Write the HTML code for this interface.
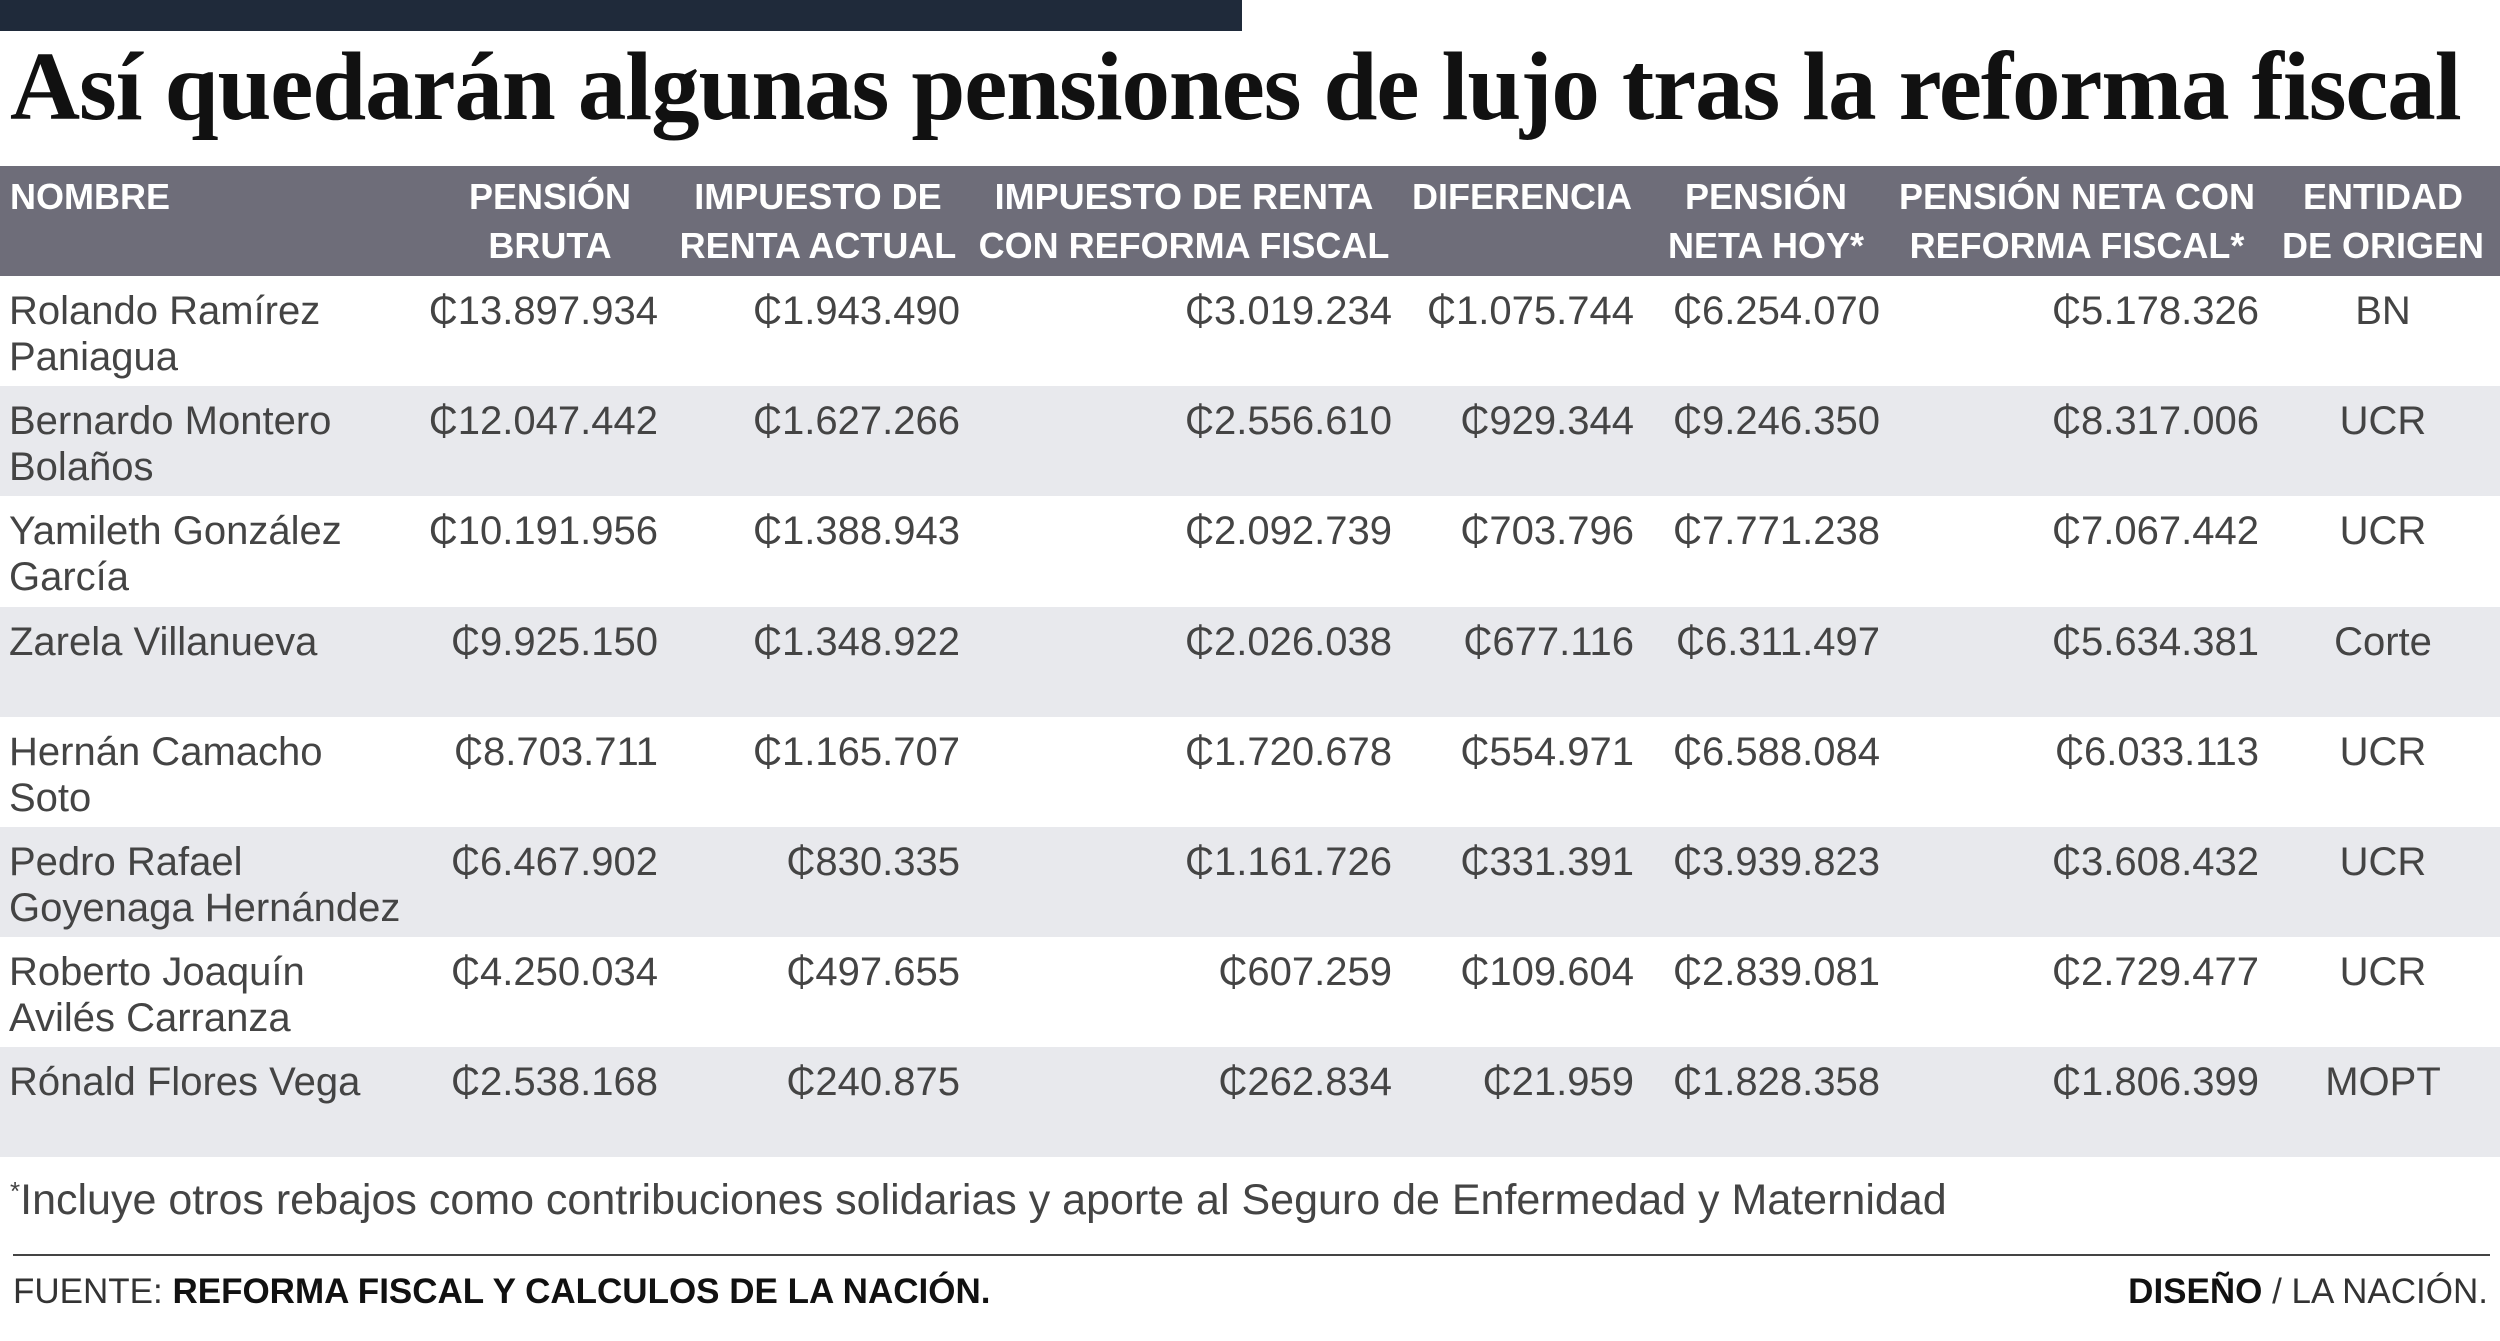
<!DOCTYPE html>
<html><head><meta charset="utf-8"><style>
body{margin:0;width:2500px;height:1341px;background:#fff;position:relative;overflow:hidden;font-family:"Liberation Sans",sans-serif;color:#2a2a2a}
.a{position:absolute}
.bar{left:0;top:0;width:1242px;height:31px;background:#1f2a3a}
.title{left:10px;top:31px;font-family:"Liberation Serif",serif;font-weight:bold;font-size:97px;letter-spacing:-1.1px;color:#111;white-space:nowrap}
.hd{left:0;top:166px;width:2500px;height:110px;background:#6e6d79}
.h{color:#fff;font-weight:bold;font-size:36px;line-height:49px;top:172px;text-align:center;white-space:nowrap}
.row{left:0;width:2500px;height:110px}
.g{background:#e8e9ed}
.c{font-size:40px;line-height:46px;white-space:nowrap;color:#444}
.r{text-align:right}
</style></head><body>
<div class="a bar"></div>
<div class="a title">Así quedarán algunas pensiones de lujo tras la reforma fiscal</div>
<div class="a hd"></div>
<div class="a h" style="left:10px;text-align:left">NOMBRE</div>
<div class="a h" style="left:400px;width:300px">PENSIÓN<br>BRUTA</div>
<div class="a h" style="left:660px;width:316px">IMPUESTO DE<br>RENTA ACTUAL</div>
<div class="a h" style="left:964px;width:440px">IMPUESTO DE RENTA<br>CON REFORMA FISCAL</div>
<div class="a h" style="left:1392px;width:260px">DIFERENCIA</div>
<div class="a h" style="left:1626px;width:280px">PENSIÓN<br>NETA HOY*</div>
<div class="a h" style="left:1867px;width:420px">PENSIÓN NETA CON<br>REFORMA FISCAL*</div>
<div class="a h" style="left:2263px;width:240px">ENTIDAD<br>DE ORIGEN</div>
<div id="rows"></div>
<div class="a" style="left:10px;top:1176px;font-size:43px;color:#444;white-space:nowrap"><span style="font-size:26px;vertical-align:top">*</span>Incluye otros rebajos como contribuciones solidarias y aporte al Seguro de Enfermedad y Maternidad</div>
<div class="a" style="left:13px;top:1254px;width:2477px;height:2px;background:#444"></div>
<div class="a" style="left:13px;top:1272px;font-size:35px;color:#333;white-space:nowrap">FUENTE: <b style="color:#111">REFORMA FISCAL Y CALCULOS DE LA NACIÓN.</b></div>
<div class="a" style="right:12px;top:1272px;font-size:35px;color:#333;white-space:nowrap"><b style="color:#111">DISEÑO</b> / LA NACIÓN.</div>
<script>
var d=[["Rolando Ramírez<br>Paniagua","₵13.897.934","₵1.943.490","₵3.019.234","₵1.075.744","₵6.254.070","₵5.178.326","BN"],
["Bernardo Montero<br>Bolaños","₵12.047.442","₵1.627.266","₵2.556.610","₵929.344","₵9.246.350","₵8.317.006","UCR"],
["Yamileth González<br>García","₵10.191.956","₵1.388.943","₵2.092.739","₵703.796","₵7.771.238","₵7.067.442","UCR"],
["Zarela Villanueva","₵9.925.150","₵1.348.922","₵2.026.038","₵677.116","₵6.311.497","₵5.634.381","Corte"],
["Hernán Camacho<br>Soto","₵8.703.711","₵1.165.707","₵1.720.678","₵554.971","₵6.588.084","₵6.033.113","UCR"],
["Pedro Rafael<br>Goyenaga Hernández","₵6.467.902","₵830.335","₵1.161.726","₵331.391","₵3.939.823","₵3.608.432","UCR"],
["Roberto Joaquín<br>Avilés Carranza","₵4.250.034","₵497.655","₵607.259","₵109.604","₵2.839.081","₵2.729.477","UCR"],
["Rónald Flores Vega","₵2.538.168","₵240.875","₵262.834","₵21.959","₵1.828.358","₵1.806.399","MOPT"]];
var rights=[658,960,1392,1634,1880,2259],h="";
d.forEach(function(r,i){var t=276+i*110.2;
h+='<div class="a row'+(i%2?' g':'')+'" style="top:'+t+'px"></div>';
var ty=t+12;
h+='<div class="a c" style="left:9px;top:'+ty+'px">'+r[0]+'</div>';
for(var j=0;j<6;j++)h+='<div class="a c r" style="left:'+(rights[j]-400)+'px;width:400px;top:'+ty+'px">'+r[j+1]+'</div>';
h+='<div class="a c" style="left:2283px;width:200px;text-align:center;top:'+ty+'px">'+r[7]+'</div>';});
document.getElementById('rows').innerHTML=h;
</script>
</body></html>
